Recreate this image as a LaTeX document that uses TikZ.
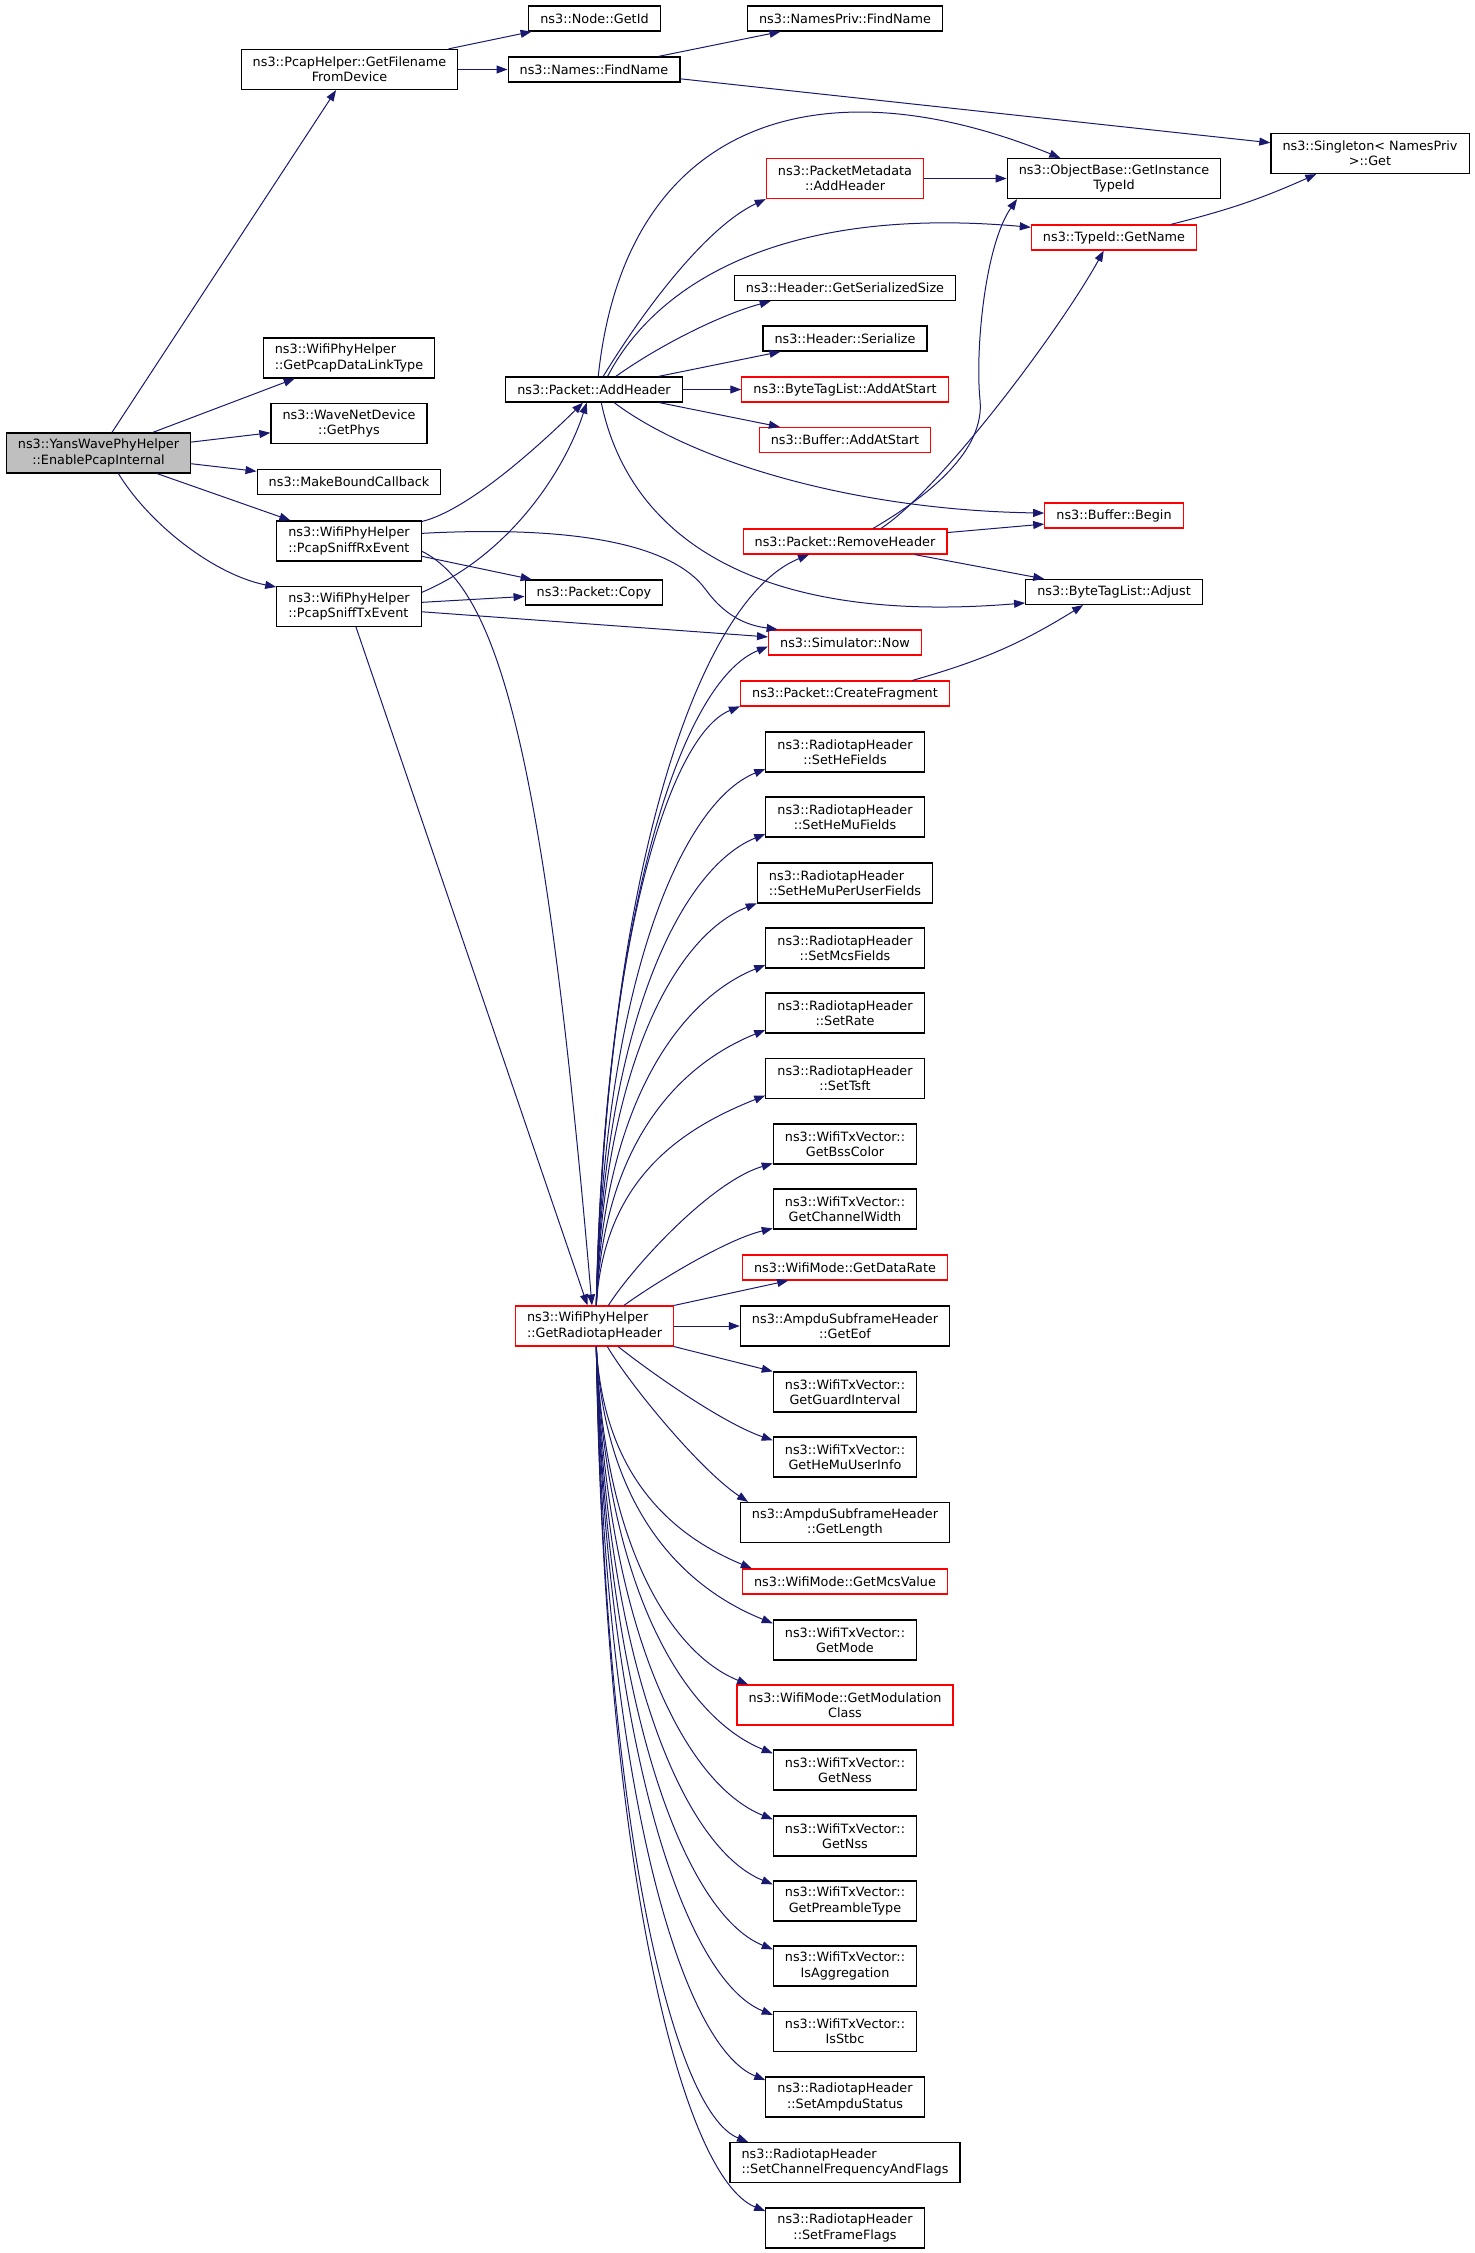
\documentclass[tikz,border=0pt]{standalone}
\usepackage{fontspec}
\setmainfont{DejaVu Sans}
\usepackage{xcolor}
\usetikzlibrary{arrows.meta}
\definecolor{edgeblue}{HTML}{191970}
\definecolor{rootgray}{HTML}{BFBFBF}

\begin{document}
\begin{tikzpicture}[x=0.5pt,y=-0.5pt]

\tikzset{func/.style = {shape=rectangle,draw=black,line width=0.6pt,fill=white,inner xsep=5.8pt,inner ysep=2pt,minimum height=12.5pt,align=center,font=\fontsize{6.4pt}{7.6pt}\selectfont}}
\tikzset{dbl/.style = {minimum height=20pt}}
\tikzset{trunc/.style = {func,draw=red}}
\tikzset{rootfn/.style = {func,fill=rootgray}}
\tikzset{edge/.style = {-{Triangle[length=5.5pt,width=4pt]},draw=edgeblue,line width=0.5pt}}

\useasboundingbox (0,0) rectangle (1475,2253);

% functions
\node[rootfn, dbl] (epi) at (98.5,453) {ns3::YansWavePhyHelper\\::EnablePcapInternal};
\node[func, dbl] (gfd) at (349.5,69.5) {ns3::PcapHelper::GetFilename\\FromDevice};
\node[func, dbl, align=left] (gdl) at (349,358) {ns3::WifiPhyHelper\\::GetPcapDataLinkType};
\node[func, dbl] (gph) at (349,423.5) {ns3::WaveNetDevice\\::GetPhys};
\node[func] (mbc) at (349,482) {ns3::MakeBoundCallback};
\node[func, dbl, align=left] (rxe) at (349,541) {ns3::WifiPhyHelper\\::PcapSniffRxEvent};
\node[func, dbl, align=left] (txe) at (349,606.5) {ns3::WifiPhyHelper\\::PcapSniffTxEvent};

\node[func] (gid) at (594.5,18.5) {ns3::Node::GetId};
\node[func] (fnm) at (594,69.5) {ns3::Names::FindName};
\node[func] (pah) at (594,389.5) {ns3::Packet::AddHeader};
\node[func] (pcp) at (594,592.5) {ns3::Packet::Copy};
\node[trunc, dbl, align=left] (rt) at (594.5,1326) {ns3::WifiPhyHelper\\::GetRadiotapHeader};

\node[func] (npf) at (845,18.5) {ns3::NamesPriv::FindName};
\node[trunc, dbl] (pmd) at (845,178.5) {ns3::PacketMetadata\\::AddHeader};
\node[func] (hgs) at (845,288) {ns3::Header::GetSerializedSize};
\node[func] (hsr) at (845,338.5) {ns3::Header::Serialize};
\node[trunc] (bas) at (845,389.5) {ns3::ByteTagList::AddAtStart};
\node[trunc] (fas) at (845,440) {ns3::Buffer::AddAtStart};
\node[trunc] (rmh) at (845,541.5) {ns3::Packet::RemoveHeader};
\node[trunc] (now) at (845,642.5) {ns3::Simulator::Now};
\node[trunc] (cfr) at (845,693.5) {ns3::Packet::CreateFragment};
\node[func, dbl] (hef) at (845,752) {ns3::RadiotapHeader\\::SetHeFields};
\node[func, dbl] (hmf) at (845,817) {ns3::RadiotapHeader\\::SetHeMuFields};
\node[func, dbl, align=left] (hmp) at (845,883) {ns3::RadiotapHeader\\::SetHeMuPerUserFields};
\node[func, dbl] (mcs) at (845,948) {ns3::RadiotapHeader\\::SetMcsFields};
\node[func, dbl] (srt) at (845,1013) {ns3::RadiotapHeader\\::SetRate};
\node[func, dbl] (tsf) at (845,1078.5) {ns3::RadiotapHeader\\::SetTsft};
\node[func, dbl] (bss) at (845,1144) {ns3::WifiTxVector::\\GetBssColor};
\node[func, dbl] (chw) at (845,1209) {ns3::WifiTxVector::\\GetChannelWidth};
\node[trunc] (gdr) at (845,1267.5) {ns3::WifiMode::GetDataRate};
\node[func, dbl] (eof) at (845,1326) {ns3::AmpduSubframeHeader\\::GetEof};
\node[func, dbl] (ggi) at (845,1392) {ns3::WifiTxVector::\\GetGuardInterval};
\node[func, dbl] (hmu) at (845,1457) {ns3::WifiTxVector::\\GetHeMuUserInfo};
\node[func, dbl] (len) at (845,1522.5) {ns3::AmpduSubframeHeader\\::GetLength};
\node[trunc] (gmv) at (845,1581.5) {ns3::WifiMode::GetMcsValue};
\node[func, dbl] (gmo) at (845,1640) {ns3::WifiTxVector::\\GetMode};
\node[trunc, dbl] (gmc) at (845,1705) {ns3::WifiMode::GetModulation\\Class};
\node[func, dbl] (nes) at (845,1770) {ns3::WifiTxVector::\\GetNess};
\node[func, dbl] (nss) at (845,1836) {ns3::WifiTxVector::\\GetNss};
\node[func, dbl] (pre) at (845,1901) {ns3::WifiTxVector::\\GetPreambleType};
\node[func, dbl] (agg) at (845,1966) {ns3::WifiTxVector::\\IsAggregation};
\node[func, dbl] (stb) at (845,2031.5) {ns3::WifiTxVector::\\IsStbc};
\node[func, dbl] (amp) at (845,2097) {ns3::RadiotapHeader\\::SetAmpduStatus};
\node[func, dbl, align=left] (scf) at (845,2162.5) {ns3::RadiotapHeader\\::SetChannelFrequencyAndFlags};
\node[func, dbl] (sff) at (845,2228) {ns3::RadiotapHeader\\::SetFrameFlags};

\node[func, dbl] (obi) at (1114,178.5) {ns3::ObjectBase::GetInstance\\TypeId};
\node[trunc] (tgn) at (1114,237.5) {ns3::TypeId::GetName};
\node[trunc] (bgn) at (1114,515.5) {ns3::Buffer::Begin};
\node[func] (adj) at (1114,592) {ns3::ByteTagList::Adjust};
\node[func, dbl] (sgt) at (1370,153.5) {ns3::Singleton< NamesPriv\\>::Get};

% edges
\draw[edge] (epi) to (gfd);
\draw[edge] (epi) to (gdl);
\draw[edge] (epi) to (gph);
\draw[edge] (epi) to (mbc);
\draw[edge] (epi) to (rxe);
\draw[edge] (epi.314) .. controls (150,525) and (215,575) .. (txe.165);
\draw[edge] (gfd) to (gid);
\draw[edge] (gfd) to (fnm);
\draw[edge] (fnm) to (npf);
\draw[edge] (fnm) to (sgt);
\draw[edge] (rxe.15) .. controls (470,510) and (545,440) .. (pah.230);
\draw[edge] (rxe) to (pcp);
\draw[edge] (rxe.6) .. controls (560,526) and (670,540) .. (706,590) .. controls (728,620) and (752,626) .. (now.169);
\draw[edge] (rxe.352) .. controls (500,590) and (545,760) .. (rt.97);
\draw[edge] (txe.11) .. controls (510,555) and (565,470) .. (pah.241);
\draw[edge] (txe) to (pcp);
\draw[edge] (txe) to (now);
\draw[edge] (txe) to (rt);
\draw[edge] (pah.55) .. controls (650,300) and (710,225) .. (pmd.south west);
\draw[edge] (pah.72) .. controls (625,120) and (820,60) .. (obi.159);
\draw[edge] (pah.44) .. controls (655,285) and (780,205) .. (tgn.173);
\draw[edge] (pah.31) .. controls (660,345) and (720,315) .. (hgs.190);
\draw[edge] (pah) to (hsr);
\draw[edge] (pah) to (bas);
\draw[edge] (pah) to (fas);
\draw[edge] (pah.327) .. controls (690,460) and (850,510) .. (bgn.178);
\draw[edge] (pah.299) .. controls (630,540) and (760,625) .. (adj.187);
\draw[edge] (pmd) to (obi);
\draw[edge] (tgn.13) to[bend right=5] (sgt.201);
\draw[edge] (rmh.25) .. controls (930,495) and (985,450) .. (980,400) .. controls (975,350) and (985,245) .. (obi.192);
\draw[edge] (rmh.20) .. controls (940,490) and (1060,330) .. (tgn.232);
\draw[edge] (rmh) to (bgn.187);
\draw[edge] (rmh) to (adj);
\draw[edge] (cfr.11) to[bend right=8] (adj.203);

\draw[edge] (rt.85) .. controls (607,855) and (703,597) .. (rmh.200);
\draw[edge] (rt.85) .. controls (605,910) and (682,681) .. (now.183);
\draw[edge] (rt.85) .. controls (603,946) and (669,735) .. (cfr.187);
\draw[edge] (rt.85) .. controls (604,984) and (681,803) .. (hef.192);
\draw[edge] (rt.85) .. controls (604,1023) and (681,868) .. (hmf.192);
\draw[edge] (rt.85) .. controls (604,1064) and (676,935) .. (hmp.193);
\draw[edge] (rt.85) .. controls (604,1101) and (681,999) .. (mcs.192);
\draw[edge] (rt.85) .. controls (604,1140) and (681,1064) .. (srt.192);
\draw[edge] (rt.85) .. controls (604,1179) and (681,1129) .. (tsf.192);
\draw[edge] (rt.56) .. controls (632,1268) and (710,1182) .. (bss.195);
\draw[edge] (rt.35) .. controls (655,1283) and (725,1240) .. (chw.195);
\draw[edge] (rt.north east) to (gdr.193);
\draw[edge] (rt) to (eof);
\draw[edge] (rt.south east) to (ggi.north west);
\draw[edge] (rt.319) .. controls (645,1368) and (720,1422) .. (hmu.167);
\draw[edge] (rt.302) .. controls (630,1385) and (700,1470) .. (len.168);
\draw[edge] (rt.275) .. controls (604,1480) and (676,1537) .. (gmv.172);
\draw[edge] (rt.275) .. controls (605,1512) and (685,1588) .. (gmo.167);
\draw[edge] (rt.275) .. controls (604,1549) and (673,1654) .. (gmc.168);
\draw[edge] (rt.275) .. controls (605,1590) and (685,1718) .. (nes.167);
\draw[edge] (rt.275) .. controls (605,1630) and (685,1784) .. (nss.167);
\draw[edge] (rt.275) .. controls (605,1669) and (685,1849) .. (pre.167);
\draw[edge] (rt.275) .. controls (605,1708) and (685,1914) .. (agg.167);
\draw[edge] (rt.275) .. controls (605,1747) and (685,1980) .. (stb.167);
\draw[edge] (rt.275) .. controls (604,1786) and (681,2046) .. (amp.168);
\draw[edge] (rt.275) .. controls (604,1824) and (673,2112) .. (scf.168);
\draw[edge] (rt.275) .. controls (604,1865) and (681,2177) .. (sff.168);
\end{tikzpicture}
\end{document}
